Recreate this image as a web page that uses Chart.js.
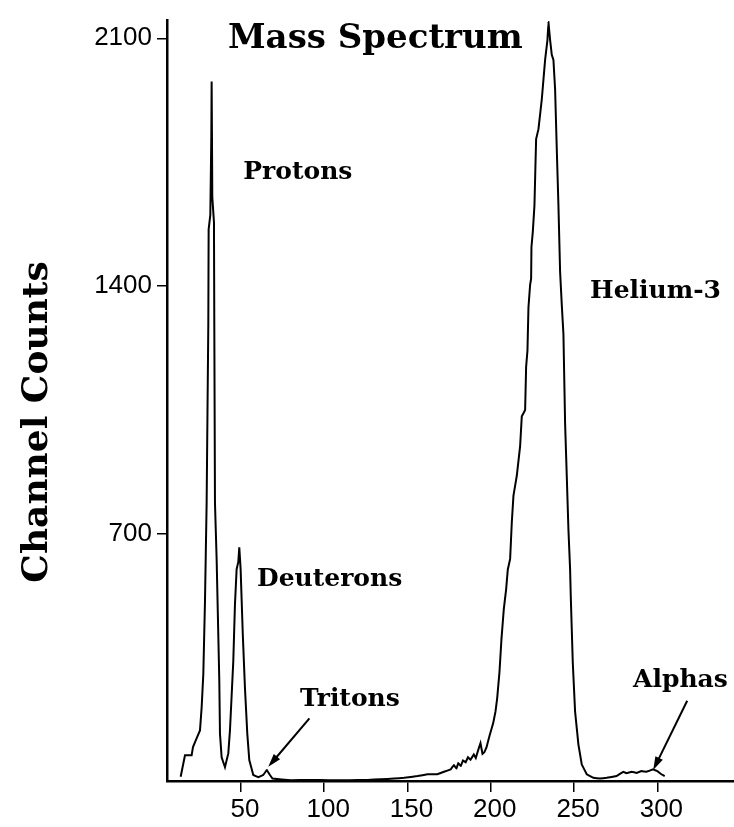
<!DOCTYPE html>
<html>
<head>
<meta charset="utf-8">
<title>Mass Spectrum</title>
<script src="https://cdn.jsdelivr.net/npm/chart.js@4.4.1/dist/chart.umd.min.js"></script>
<style>
  html, body { margin: 0; padding: 0; background: #fff; }
  #wrap { width: 734px; height: 827px; }
</style>
</head>
<body>
<div id="wrap"><canvas id="massChart" width="734" height="827"></canvas></div>
<script>
// ── Data ──
// Channel number vs counts.
const channels = [
  13.8, 16.4, 20.4, 21.2, 25.4, 26.4, 27.4, 28.4, 29.4, 30.4, 30.6, 31.6, 32.2, 32.4, 32.6, 32.8, 33.8, 34.0,
  34.4, 35.4, 37.0, 37.4, 38.4, 40.4, 42.4, 43.4, 45.4, 46.4, 47.4, 48.4, 49.0, 49.8, 51.1, 52.4, 53.8, 55.0,
  57.4, 60.4, 63.4, 65.5, 67.4, 68.9, 80, 92, 103, 115, 126, 134, 142, 148, 156, 162,
  167.9, 171.9, 175.9, 177.9, 179.3, 180.5, 181.9, 183.3, 184.9, 186.3, 187.8, 189.8, 191.0, 192.8, 193.8, 195.0,
  196.2, 197.4, 199.4, 201.4, 202.8, 203.8, 205.2, 206.4, 207.8, 209.2, 210.2, 211.6, 212.6, 213.6, 215.6, 217.6,
  218.6, 220.6, 221.2, 222.0, 222.6, 223.6, 224.2, 224.4, 225.2, 226.2, 227.2, 228.6, 230.6, 232.6, 234.0, 234.6,
  235.6, 236.6, 237.6, 238.6, 239.6, 240.6, 241.6, 242.6, 243.6, 244.6, 245.6, 246.6, 247.6, 248.0, 249.2, 250.6,
  252.6, 254.6, 257.6, 261.6, 265.5, 269.5, 275.5, 279.5, 281.5, 284.5, 287.5, 290.4, 293.4, 297.4, 300.0, 302.4,
  304.4
];
const counts = [
  12, 73, 73, 96, 143, 208, 302, 507, 787, 1291, 1560, 1600, 1820, 1978, 1820, 1650, 1580, 1291,
  787, 627, 283, 134, 67, 39, 78, 143, 339, 499, 599, 619, 661, 599, 415, 263, 134, 59,
  17, 11, 17, 31, 17, 7, 2, 3, 2, 2, 3, 5, 7, 9, 14, 19,
  19, 26, 33, 45, 35, 51, 42, 58, 53, 67, 60, 75, 65, 93, 107, 77,
  82, 95, 131, 163, 196, 233, 308, 402, 486, 542, 598, 628, 731, 807, 863, 947,
  1031, 1049, 1171, 1217, 1339, 1403, 1420, 1510, 1552, 1627, 1815, 1843, 1927, 2039, 2095, 2146,
  2095, 2053, 2039, 1955, 1787, 1627, 1440, 1347, 1263, 1011, 863, 711, 599, 523, 336, 196,
  103, 47, 19, 9, 7, 9, 14, 26, 22, 26, 23, 28, 26, 33, 28, 19,
  14
];
const xTickValues = [50, 100, 150, 200, 250, 300];
const yTickValues = [700, 1400, 2100];

// Peak labels and arrows, placed in data units
const peakLabels = [
  { text: 'Protons', x: 51.4, y: 1720 },
  { text: 'Deuterons', x: 59.6, y: 569 },
  { text: 'Tritons', x: 85.4, y: 230 },
  { text: 'Helium-3', x: 259.6, y: 1384 },
  { text: 'Alphas', x: 285.4, y: 283 }
];
const arrows = [
  { from: [91.1, 177], to: [66.4, 40] },
  { from: [317.9, 227], to: [297.5, 31] }
];

const SERIF = '"DejaVu Serif", "Liberation Serif", serif';
const SANS = '"Liberation Sans", Arial, sans-serif';

// ── Annotation plugin ──
const annotate = {
  id: 'annotate',
  afterDraw(chart) {
    const { ctx, scales: { x, y } } = chart;
    ctx.save();
    ctx.fillStyle = '#000';
    ctx.strokeStyle = '#000';

    // title inside the plot area
    ctx.font = 'bold 34px ' + SERIF;
    ctx.textAlign = 'left';
    ctx.textBaseline = 'middle';
    ctx.fillText('Mass Spectrum', x.getPixelForValue(42.2), y.getPixelForValue(2098));

    ctx.font = 'bold 25px ' + SERIF;
    peakLabels.forEach(l => {
      ctx.fillText(l.text, x.getPixelForValue(l.x), y.getPixelForValue(l.y));
    });

    ctx.lineWidth = 2;
    arrows.forEach(a => {
      const x0 = x.getPixelForValue(a.from[0]), y0 = y.getPixelForValue(a.from[1]);
      const x1 = x.getPixelForValue(a.to[0]), y1 = y.getPixelForValue(a.to[1]);
      const ang = Math.atan2(y1 - y0, x1 - x0);
      ctx.beginPath();
      ctx.moveTo(x0, y0);
      ctx.lineTo(x1 - 8 * Math.cos(ang), y1 - 8 * Math.sin(ang));
      ctx.stroke();
      ctx.beginPath();
      ctx.moveTo(x1, y1);
      ctx.lineTo(x1 - 14 * Math.cos(ang - 0.3), y1 - 14 * Math.sin(ang - 0.3));
      ctx.lineTo(x1 - 14 * Math.cos(ang + 0.3), y1 - 14 * Math.sin(ang + 0.3));
      ctx.closePath();
      ctx.fill();
    });

    // rotated y-axis title
    ctx.font = 'bold 36px ' + SERIF;
    ctx.textAlign = 'center';
    ctx.textBaseline = 'middle';
    ctx.translate(38, 422);
    ctx.rotate(-Math.PI / 2);
    ctx.fillText('Channel Counts', 0, 0);
    ctx.restore();
  }
};

// ── Chart ──
const canvas = document.getElementById('massChart');
new Chart(canvas, {
  type: 'line',
  data: {
    datasets: [{
      label: 'Counts',
      data: channels.map((c, i) => ({ x: c, y: counts[i] })),
      borderColor: '#000',
      borderWidth: 2,
      pointRadius: 0,
      // tiny tension keeps Chart.js off its per-pixel fast path, which mangles the narrow peaks
      tension: 0.0001,
      fill: false
    }]
  },
  options: {
    responsive: false,
    animation: false,
    devicePixelRatio: 1,
    layout: { padding: { top: 12, left: 0, right: 0, bottom: 0 } },
    plugins: {
      legend: { display: false },
      tooltip: { enabled: false }
    },
    scales: {
      x: {
        type: 'linear',
        min: 5.6,
        max: 346,
        afterBuildTicks: s => { s.ticks = xTickValues.map(v => ({ value: v })); },
        afterFit: s => { s.height = 46; },
        border: { display: true, color: '#000', width: 2.5 },
        grid: { display: true, drawOnChartArea: false, drawTicks: true, tickLength: 11, color: '#000', lineWidth: 1.5 },
        ticks: { color: '#000', font: { size: 26, family: SANS }, padding: 2, labelOffset: 4, maxRotation: 0, callback: v => String(v) }
      },
      y: {
        type: 'linear',
        min: 0,
        max: 2150,
        afterBuildTicks: s => { s.ticks = yTickValues.map(v => ({ value: v })); },
        afterFit: s => { s.width = 167; },
        border: { display: true, color: '#000', width: 2.5 },
        grid: { display: true, drawOnChartArea: false, drawTicks: true, tickLength: 10, color: '#000', lineWidth: 1.5 },
        ticks: { color: '#000', font: { size: 26, family: SANS }, padding: 5, callback: v => String(v) }
      }
    }
  },
  plugins: [annotate]
});
</script>
</body>
</html>
